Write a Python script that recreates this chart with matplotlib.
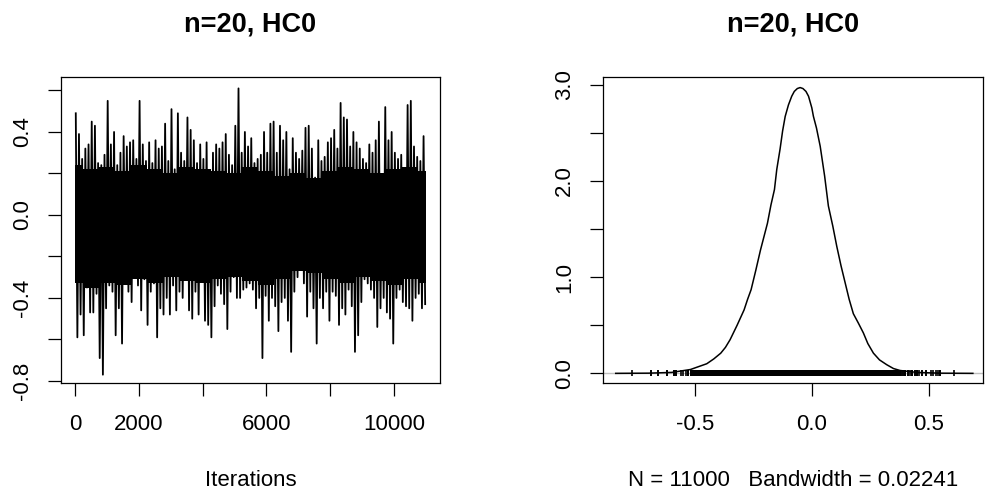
import matplotlib
matplotlib.use('Agg')
import matplotlib.pyplot as plt
import numpy as np

plt.rcParams['font.family'] = ['Liberation Sans', 'DejaVu Sans']

# 链的抽样：每 100 次迭代内读到的最高点和最低点
hi = [0.49, 0.39, 0.27, 0.32, 0.34, 0.45, 0.43, 0.25, 0.24, 0.29,
      0.55, 0.34, 0.40, 0.24, 0.30, 0.38, 0.33, 0.35, 0.36, 0.27,
      0.55, 0.34, 0.26, 0.35, 0.25, 0.36, 0.32, 0.33, 0.44, 0.26,
      0.51, 0.22, 0.49, 0.30, 0.26, 0.47, 0.41, 0.36, 0.25, 0.34,
      0.27, 0.35, 0.20, 0.30, 0.34, 0.32, 0.35, 0.39, 0.29, 0.24,
      0.43, 0.61, 0.30, 0.40, 0.33, 0.37, 0.25, 0.27, 0.29, 0.40,
      0.30, 0.44, 0.45, 0.30, 0.43, 0.36, 0.40, 0.22, 0.37, 0.30,
      0.27, 0.31, 0.42, 0.43, 0.32, 0.18, 0.36, 0.26, 0.28, 0.35,
      0.37, 0.41, 0.32, 0.54, 0.47, 0.46, 0.33, 0.40, 0.35, 0.32,
      0.27, 0.25, 0.34, 0.30, 0.36, 0.45, 0.19, 0.52, 0.36, 0.40,
      0.30, 0.27, 0.29, 0.20, 0.53, 0.55, 0.33, 0.28, 0.26, 0.38]
lo = [-0.59, -0.48, -0.58, -0.35, -0.47, -0.47, -0.38, -0.69, -0.77, -0.45,
      -0.34, -0.37, -0.58, -0.45, -0.62, -0.33, -0.37, -0.42, -0.27, -0.34,
      -0.46, -0.31, -0.53, -0.37, -0.33, -0.59, -0.45, -0.48, -0.40, -0.48,
      -0.34, -0.46, -0.37, -0.40, -0.30, -0.46, -0.50, -0.37, -0.48, -0.28,
      -0.51, -0.53, -0.59, -0.44, -0.34, -0.38, -0.43, -0.55, -0.37, -0.30,
      -0.40, -0.40, -0.36, -0.35, -0.33, -0.36, -0.45, -0.40, -0.69, -0.39,
      -0.51, -0.40, -0.44, -0.56, -0.42, -0.40, -0.51, -0.66, -0.37, -0.30,
      -0.24, -0.33, -0.49, -0.37, -0.45, -0.62, -0.40, -0.45, -0.37, -0.51,
      -0.37, -0.39, -0.53, -0.45, -0.48, -0.36, -0.44, -0.66, -0.58, -0.42,
      -0.31, -0.33, -0.36, -0.40, -0.54, -0.45, -0.40, -0.47, -0.50, -0.62,
      -0.40, -0.36, -0.42, -0.44, -0.45, -0.51, -0.40, -0.38, -0.45, -0.43]

# 实心主体的上下边（每 500 次迭代读一次）
core_iter = list(range(0, 11001, 500))
core_top = [0.24, 0.22, 0.23, 0.21, 0.24, 0.22, 0.20, 0.23, 0.22, 0.21, 0.20, 0.23,
            0.21, 0.19, 0.20, 0.18, 0.21, 0.23, 0.22, 0.20, 0.22, 0.23, 0.21]
core_bot = [-0.33, -0.35, -0.33, -0.34, -0.31, -0.33, -0.30, -0.32, -0.33, -0.31, -0.30, -0.32,
            -0.34, -0.31, -0.27, -0.28, -0.31, -0.33, -0.30, -0.32, -0.34, -0.31, -0.33]

# 核密度曲线
dens_x = [-0.84, -0.70, -0.60, -0.52, -0.45, -0.42, -0.39, -0.37, -0.35, -0.32,
          -0.29, -0.275, -0.26, -0.24, -0.22, -0.205, -0.19, -0.175, -0.16, -0.15,
          -0.136, -0.125, -0.114, -0.10, -0.086, -0.075, -0.062, -0.05, -0.038, -0.025,
          -0.014, 0.0, 0.007, 0.02, 0.036, 0.055, 0.071, 0.09, 0.107, 0.125,
          0.143, 0.16, 0.178, 0.20, 0.221, 0.24, 0.264, 0.29, 0.321, 0.35,
          0.378, 0.45, 0.55, 0.69]
dens_y = [0.0, 0.002, 0.01, 0.04, 0.10, 0.15, 0.21, 0.27, 0.35, 0.50,
          0.66, 0.77, 0.87, 1.07, 1.28, 1.42, 1.56, 1.75, 1.91, 2.12,
          2.33, 2.52, 2.67, 2.79, 2.88, 2.93, 2.96, 2.97, 2.96, 2.93,
          2.88, 2.76, 2.67, 2.55, 2.36, 2.05, 1.74, 1.53, 1.32, 1.12,
          0.94, 0.77, 0.62, 0.52, 0.42, 0.31, 0.21, 0.14, 0.09, 0.05,
          0.03, 0.01, 0.002, 0.0]
rug_dense = (-0.52, 0.38)

title = 'n=20, HC0'
n_iter = 11000
bandwidth = 0.02241

# 交错排列成一条链
hi_iter = np.arange(len(hi)) * 100 + 25
lo_iter = np.arange(len(lo)) * 100 + 75
chain_iter = np.ravel(np.column_stack([hi_iter, lo_iter]))
chain_val = np.ravel(np.column_stack([hi, lo]))

fig = plt.figure(figsize=(9.93, 4.97), dpi=100)
ax1 = fig.add_axes([0.0614, 0.2294, 0.3817, 0.6157])
ax2 = fig.add_axes([0.6076, 0.2294, 0.3827, 0.6157])

tick_font = 16
title_font = 19.5

# 左图：轨迹
ax1.fill_between(core_iter, core_bot, core_top, step='mid', color='black', lw=0)
ax1.plot(chain_iter, chain_val, color='black', lw=1.3)
ax1.set_xlim(-439, 11440)
ax1.set_ylim(-0.81, 0.665)
ax1.set_xticks([0, 2000, 4000, 6000, 8000, 10000])
ax1.set_xticklabels(['0', '2000', '', '6000', '', '10000'])
ax1.set_yticks([-0.8, -0.6, -0.4, -0.2, 0.0, 0.2, 0.4, 0.6])
ax1.set_yticklabels(['-0.8', '', '-0.4', '', '0.0', '', '0.4', ''])
ax1.set_xlabel('Iterations', fontsize=tick_font)
ax1.xaxis.set_label_coords(0.5, -0.285)

# 右图：密度
ax2.axhline(0, color='#bebebe', lw=1, zorder=1)
ax2.plot(dens_x, dens_y, color='black', lw=1.1, zorder=3)
ax2.vlines(hi + lo, -0.025, 0.035, color='black', lw=1.2, zorder=2)
ax2.fill_between(rug_dense, -0.025, 0.035, color='black', lw=0, zorder=2)
ax2.set_xlim(-0.893, 0.735)
ax2.set_ylim(-0.10, 3.08)
ax2.set_xticks([-0.5, 0.0, 0.5])
ax2.set_xticklabels(['-0.5', '0.0', '0.5'])
ax2.set_yticks([0.0, 0.5, 1.0, 1.5, 2.0, 2.5, 3.0])
ax2.set_yticklabels(['0.0', '', '1.0', '', '2.0', '', '3.0'])
ax2.set_xlabel(f'N = {n_iter}   Bandwidth = {bandwidth}', fontsize=tick_font)
ax2.xaxis.set_label_coords(0.5, -0.285)

for ax in (ax1, ax2):
    ax.set_title(title, fontsize=title_font, fontweight='bold', pad=33)
    ax.tick_params(axis='both', direction='out', length=9.4, width=0.9,
                   labelsize=tick_font)
    ax.tick_params(axis='x', pad=13)
    ax.tick_params(axis='y', pad=11)
    for lab in ax.get_yticklabels():
        lab.set_rotation(90)
        lab.set_va('center')
    for sp in ax.spines.values():
        sp.set_linewidth(0.9)

fig.savefig('out.png', dpi=100, facecolor='white')
plt.close(fig)
